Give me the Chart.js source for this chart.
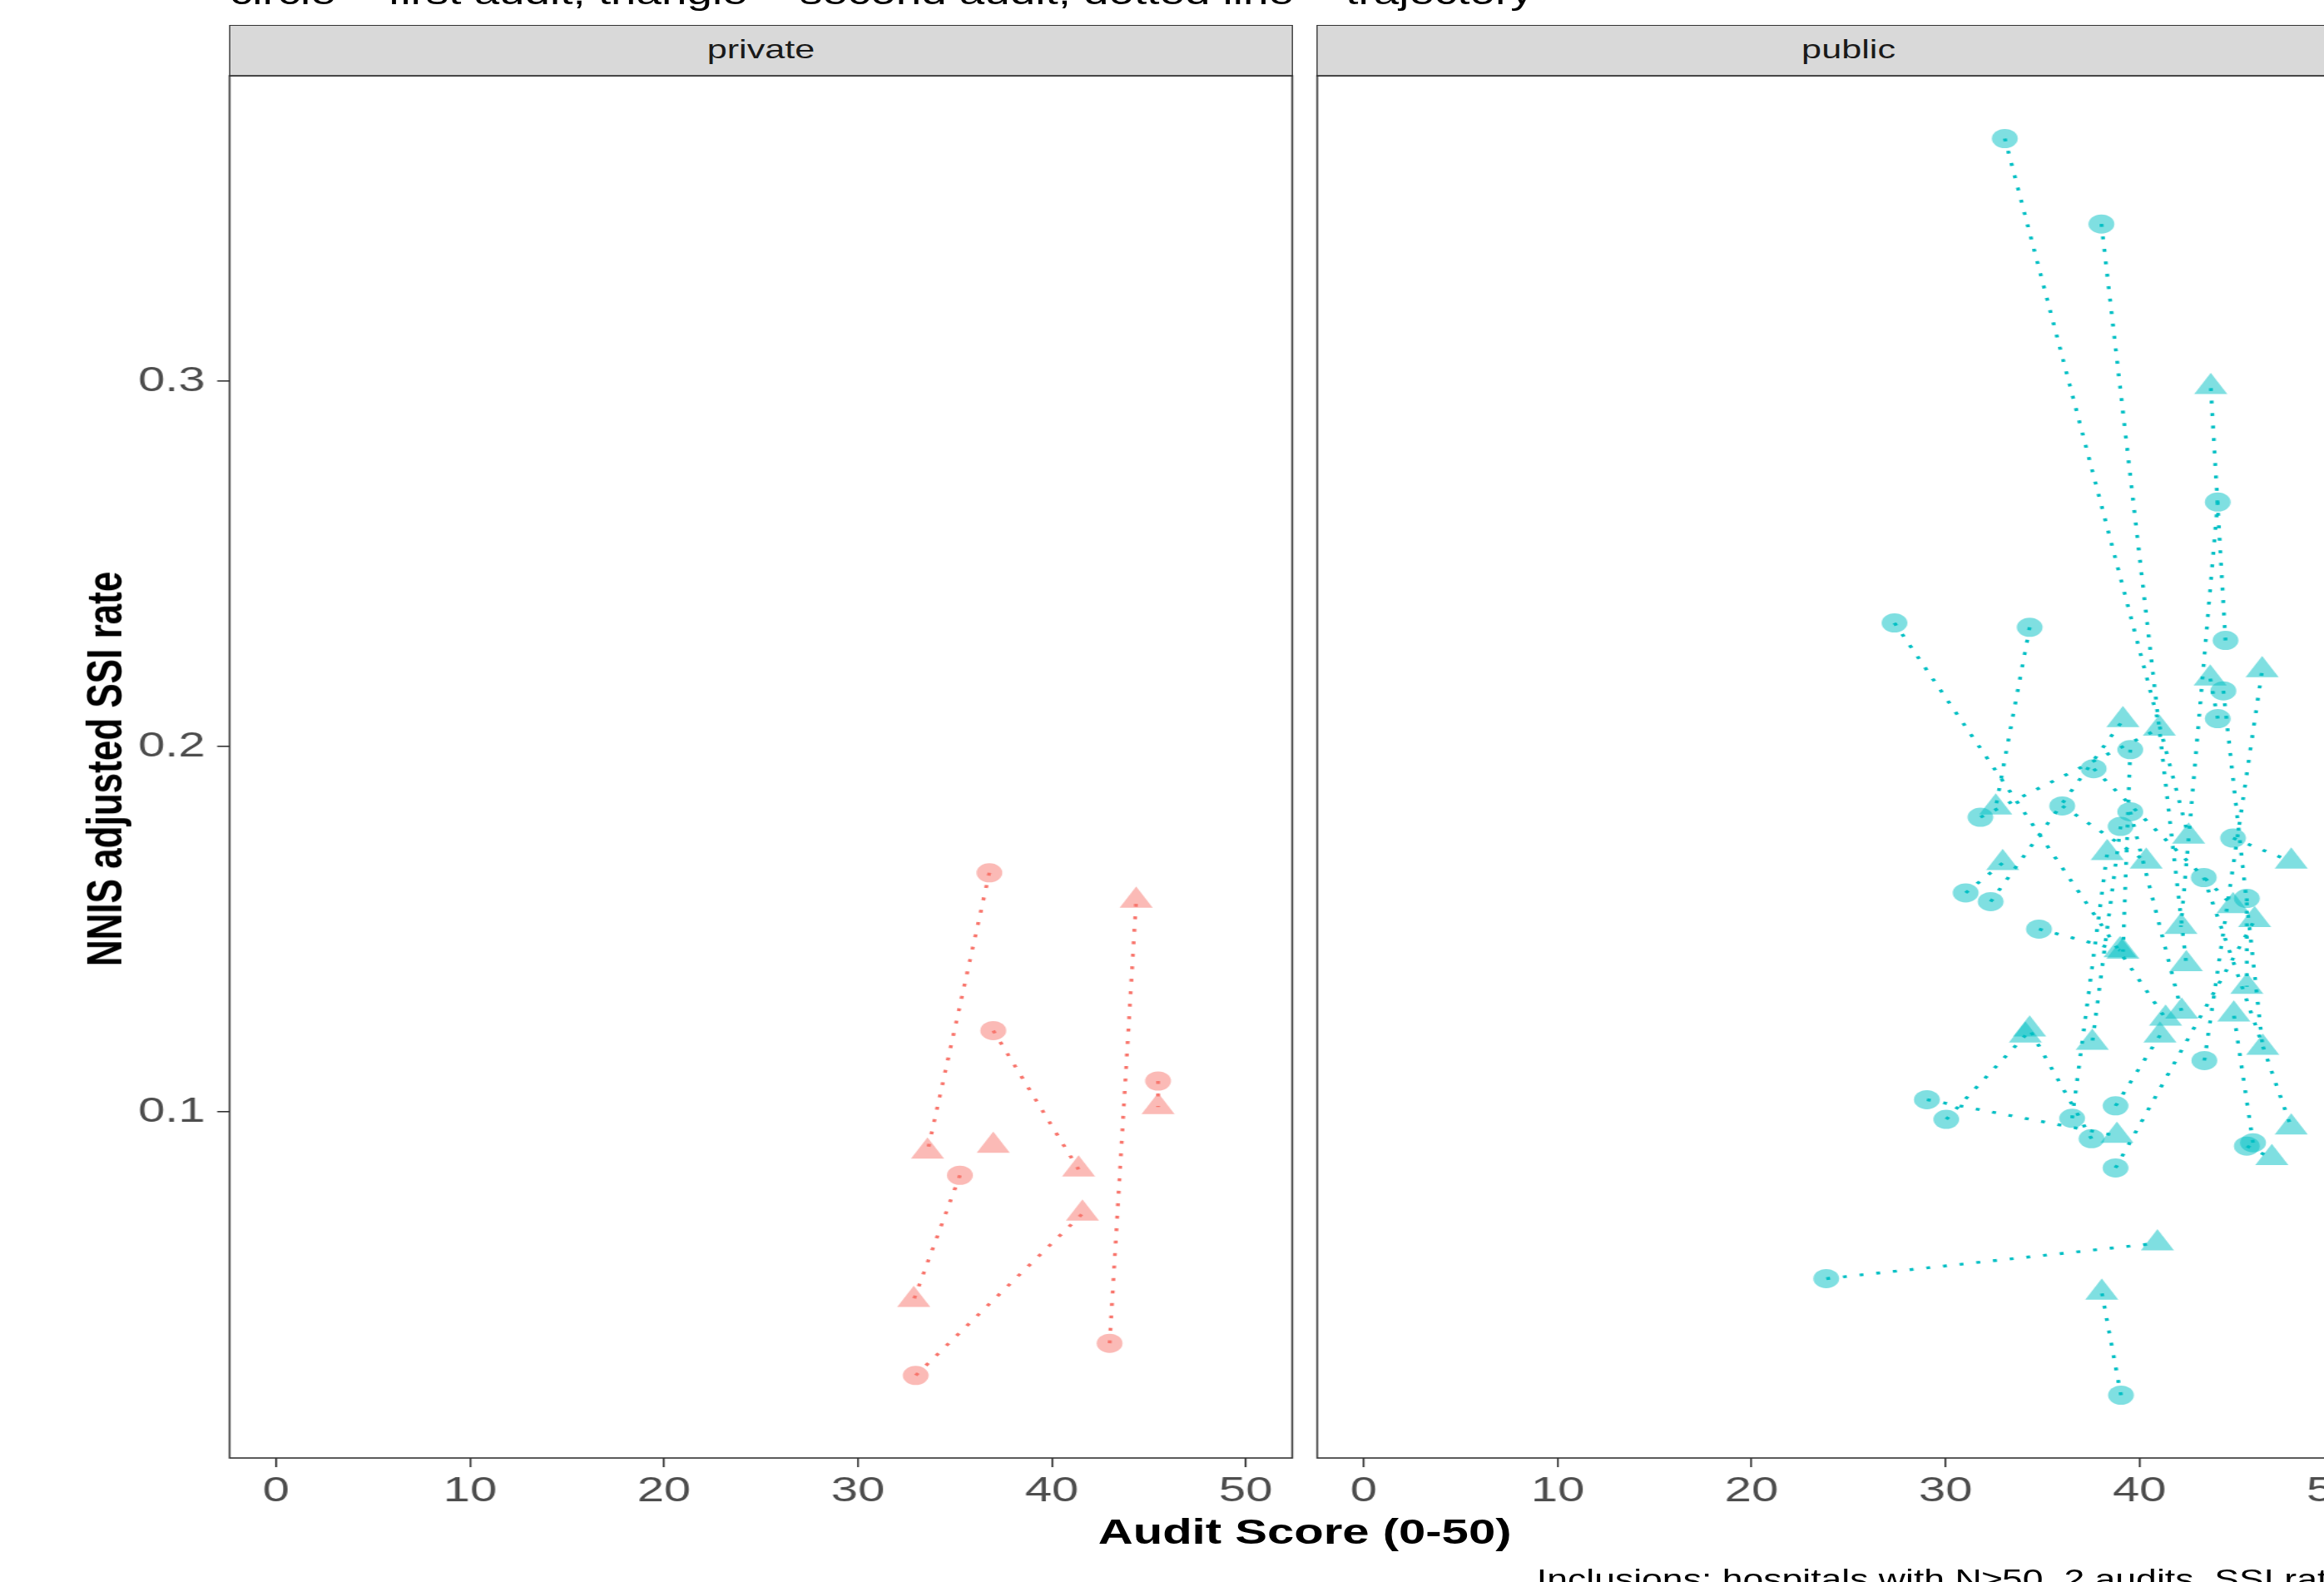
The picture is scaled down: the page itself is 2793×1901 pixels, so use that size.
<!DOCTYPE html>
<html>
<head>
<meta charset="utf-8">
<title>SSI rate vs audit score</title>
<script src="https://cdn.jsdelivr.net/npm/chart.js@4.4.1/dist/chart.umd.min.js"></script>
<style>
  html, body { margin: 0; padding: 0; background: #fff; overflow: hidden; }
  body { width: 2793px; height: 1901px; position: relative; }
  /* the reference is stretched sideways, so the whole stage is too */
  #stage { position: absolute; left: 0; top: 0; width: 2069px; height: 1901px;
           transform-origin: 0 0; transform: scaleX(1.35); overflow: hidden;
           font-family: 'Liberation Sans', Arial, sans-serif; }
  canvas { position: absolute; top: 0; }
  #cPriv { left: 0; }
  #cPub { left: 1160px; }
  .strip { position: absolute; top: 30px; height: 61.8px; width: 947.6px; box-sizing: border-box;
           background: #d9d9d9; border: 1.6px solid #333; color: #1a1a1a;
           font-size: 32px; text-align: center; line-height: 56px; }
  .txt { position: absolute; white-space: nowrap; color: #000; }
</style>
</head>
<body>
<div id="stage">
  <div class="txt" style="left:204.4px; top:-29px; font-size:40.6px; line-height:40px;">circle = first audit, triangle = second audit, dotted line = trajectory</div>
  <div class="strip" style="left:203.6px;">private</div>
  <div class="strip" style="left:1171.8px;">public</div>
  <canvas id="cPriv" width="1160" height="1901"></canvas>
  <canvas id="cPub" width="970" height="1901"></canvas>
  <div class="txt" style="left:92.6px; top:924px; font-size:44px; font-weight:bold; transform:translate(-50%,-50%) rotate(-90deg);">NNIS adjusted SSI rate</div>
  <div class="txt" style="left:1161.6px; top:1818.6px; font-size:43px; line-height:43px; font-weight:bold; transform:translateX(-50%);">Audit Score (0-50)</div>
  <div class="txt" style="left:1368px; top:1881px; font-size:33px; line-height:33px;">Inclusions: hospitals with N≥50, 2 audits, SSI rate</div>
</div>

<script>
// private hospitals: first audit (circle) and second audit (triangle)
var privFirstX  = [36.78, 36.98, 35.26, 32.98, 42.98, 45.48, null];
var privFirstY  = [0.1654, 0.1222, 0.0826, 0.0278, 0.0366, 0.1084, null];
var privSecondX = [33.59, 41.38, 32.88, 41.58, 44.35, 45.48, 36.98];
var privSecondY = [0.0891, 0.0842, 0.0485, 0.0721, 0.1578, 0.1013, 0.0907];

// public hospitals
var pubFirstX  = [33.06, 38.04, 44.44, 44.04, 27.37, 34.34, 44.33, 44.04, 32.33, 31.80,
                  39.53, 34.82, 39.03, 44.83, 43.32, 43.35, 29.04, 30.04, 36.53, 37.53,
                  45.54, 45.86, 38.77, 39.05, 23.85, 31.04, 37.64, 36.02, 39.53, 38.77, 45.54];
var pubFirstY  = [0.3664, 0.343, 0.229, 0.2669, 0.2338, 0.2326, 0.2152, 0.2076, 0.1575, 0.1806,
                  0.1991, 0.15, 0.1781, 0.1749, 0.1641, 0.114, 0.1033, 0.0979, 0.0982, 0.0926,
                  0.0906, 0.0915, 0.0846, 0.0224, 0.0543, 0.1599, 0.1939, 0.1837, 0.1821, 0.1016, 0.1584];
var pubSecondX = [42.54, 42.42, 43.68, 42.14, 41.35, 32.59, 46.36, 43.65, 39.15, 41.03,
                  39.15, 39.0, 37.57, 47.83, 47.83, 46.33, 38.84, 34.12, 38.34, 34.34,
                  46.83, 44.87, 45.94, 38.06, 40.93, 32.95, 44.83, 40.35, 42.18, 41.06, 45.54];
var pubSecondY = [0.1753, 0.1404, 0.2984, 0.1506, 0.1255, 0.1833, 0.1175, 0.2186, 0.2072, 0.2049,
                  0.1438, 0.1442, 0.1189, 0.1685, 0.0957, 0.2209, 0.0934, 0.1209, 0.1708, 0.1225,
                  0.0873, 0.1266, 0.1525, 0.0505, 0.064, 0.1681, 0.1563, 0.1685, 0.1274, 0.1209, 0.1342];

var xTicks = [0, 10, 20, 30, 40, 50];
var yTicks = [0.1, 0.2, 0.3];

var tickFont = { family: "'Liberation Sans', Arial, sans-serif", size: 43 };

// panel frame like theme_bw
var panelBox = {
  id: 'panelBox',
  afterDraw: function (chart) {
    var a = chart.chartArea, ctx = chart.ctx;
    ctx.save();
    ctx.strokeStyle = '#333';
    ctx.lineWidth = 1.6;
    ctx.strokeRect(a.left, a.top, a.right - a.left, a.bottom - a.top);
    ctx.restore();
  }
};

function montarDatasets(fx, fy, sx, sy, cor, preench) {
  var primeira = [], segunda = [], trajetos = [];
  for (var i = 0; i < sx.length; i++) {
    segunda.push({ x: sx[i], y: sy[i] });
    if (fx[i] == null) continue;
    primeira.push({ x: fx[i], y: fy[i] });
    trajetos.push({
      data: [{ x: fx[i], y: fy[i] }, { x: sx[i], y: sy[i] }],
      showLine: true,
      borderColor: cor,
      borderWidth: 3.4,
      borderDash: [3.5, 11.5],
      pointRadius: 0,
      fill: false
    });
  }
  return [
    { data: primeira, pointStyle: 'circle', pointRadius: 11.5, backgroundColor: preench, borderWidth: 0 },
    { data: segunda, pointStyle: 'triangle', pointRadius: 17, backgroundColor: preench, borderWidth: 0 }
  ].concat(trajetos);
}

function semFolga(s) { s.paddingLeft = 0; s.paddingRight = 0; s.paddingTop = 0; s.paddingBottom = 0; }

// left/right: where the plot area sits inside the canvas
function criarPainel(id, datasets, comEixoY, left, right) {
  var canvas = document.getElementById(id);
  return new Chart(canvas, {
    type: 'scatter',
    data: { datasets: datasets },
    options: {
      responsive: false,
      animation: false,
      devicePixelRatio: 1,
      layout: {
        autoPadding: false,
        padding: { top: 91, bottom: 0, left: comEixoY ? 0 : left, right: canvas.width - right }
      },
      plugins: { legend: { display: false }, tooltip: { enabled: false } },
      scales: {
        x: {
          type: 'linear', min: -2.4, max: 52.4,
          afterBuildTicks: function (s) { s.ticks = xTicks.map(function (v) { return { value: v }; }); },
          afterFit: function (s) { s.height = 149; semFolga(s); },
          ticks: { font: tickFont, color: '#4d4d4d', padding: 3, maxRotation: 0 },
          grid: { drawOnChartArea: false, drawTicks: true, tickLength: 11, color: '#333', lineWidth: 1.6 },
          border: { display: false }
        },
        y: {
          type: 'linear', min: 0.0052, max: 0.3836,
          display: comEixoY,
          afterBuildTicks: function (s) { s.ticks = yTicks.map(function (v) { return { value: v }; }); },
          afterFit: function (s) { s.width = comEixoY ? left : 0; semFolga(s); },
          ticks: { font: tickFont, color: '#4d4d4d', padding: 10.7,
                   callback: function (v) { return v.toFixed(1); } },
          grid: { drawOnChartArea: false, drawTicks: true, tickLength: 11, color: '#333', lineWidth: 1.6 },
          border: { display: false }
        }
      }
    },
    plugins: [panelBox]
  });
}

criarPainel('cPriv',
  montarDatasets(privFirstX, privFirstY, privSecondX, privSecondY, '#F8766D', 'rgba(248,118,109,0.5)'),
  true, 204.4, 1150.4);

criarPainel('cPub',
  montarDatasets(pubFirstX, pubFirstY, pubSecondX, pubSecondY, '#00BFC4', 'rgba(0,191,196,0.5)'),
  false, 12.6, 958.6);
</script>
</body>
</html>
